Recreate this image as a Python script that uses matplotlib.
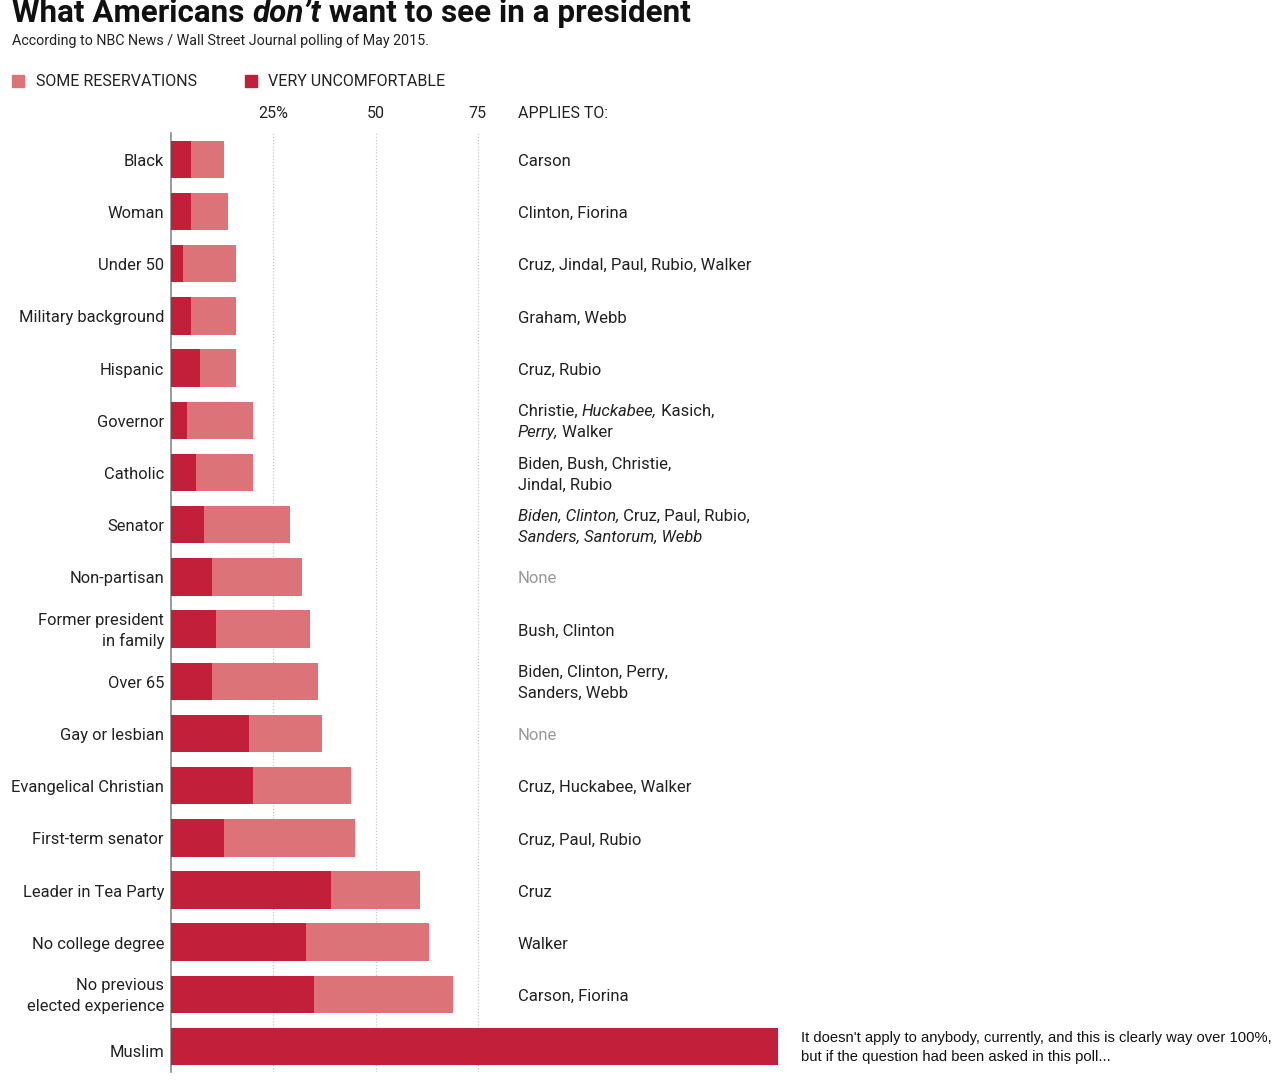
import matplotlib
matplotlib.use("Agg")
import matplotlib.pyplot as plt
from matplotlib import transforms

plt.rcParams["font.family"] = ["Roboto", "DejaVu Sans"]

W, H = 1280, 1080

DARK = "#c11f3a"
LIGHT = "#db7378"
TEXT = "#222222"

categories = [
    "Black",
    "Woman",
    "Under 50",
    "Military background",
    "Hispanic",
    "Governor",
    "Catholic",
    "Senator",
    "Non-partisan",
    "Former president\nin family",
    "Over 65",
    "Gay or lesbian",
    "Evangelical Christian",
    "First-term senator",
    "Leader in Tea Party",
    "No college degree",
    "No previous\nelected experience",
    "Muslim",
]

very_uncomfortable = [5, 5, 3, 5, 7, 4, 6, 8, 10, 11, 10, 19, 20, 13, 39, 33, 35, 148.5]
some_reservations = [8, 9, 13, 11, 9, 16, 14, 21, 22, 23, 26, 18, 24, 32, 22, 30, 34, 0]

# names wrapped in _underscores_ are drawn in italics
applies_to = [
    "Carson",
    "Clinton, Fiorina",
    "Cruz, Jindal, Paul, Rubio, Walker",
    "Graham, Webb",
    "Cruz, Rubio",
    "Christie, _Huckabee,_ Kasich,\n_Perry,_ Walker",
    "Biden, Bush, Christie,\nJindal, Rubio",
    "_Biden, Clinton,_ Cruz, Paul, Rubio,\n_Sanders, Santorum, Webb_",
    "None",
    "Bush, Clinton",
    "Biden, Clinton, Perry,\nSanders, Webb",
    "None",
    "Cruz, Huckabee, Walker",
    "Cruz, Paul, Rubio",
    "Cruz",
    "Walker",
    "Carson, Fiorina",
    None,
]

muslim_note = ("It doesn't apply to anybody, currently, and this is clearly way over 100%,\n"
               "but if the question had been asked in this poll...")

tick_values = [25, 50, 75]
tick_labels = ["25%", "50", "75"]


def fx(x):
    return x / W


def fy(y):
    return 1 - y / H


fig = plt.figure(figsize=(W / 100, H / 100), dpi=100)
ax = fig.add_axes([fx(171), fy(1072), (778 - 171) / W, (1072 - 133) / H])

rows = list(range(len(categories)))
ax.barh(rows, very_uncomfortable, height=0.72, color=DARK, zorder=3)
ax.barh(rows, some_reservations, left=very_uncomfortable, height=0.72,
        color=LIGHT, zorder=3)

ax.set_xlim(0, 607 / 4.09)
ax.set_ylim(17.485, -0.504)

for v in tick_values:
    ax.axvline(v, color="#c8c8c8", lw=0.9, linestyle=(0, (1, 1.5)), zorder=1)

for side in ["top", "right", "bottom"]:
    ax.spines[side].set_visible(False)
ax.spines["left"].set_color("#8a8a8a")
ax.spines["left"].set_linewidth(1.2)
ax.set_xticks([])
ax.set_yticks([])

# top scale labels
blend = transforms.blended_transform_factory(ax.transData, fig.transFigure)
for v, lab in zip(tick_values, tick_labels):
    ax.text(v, fy(114), lab, transform=blend, ha="center", va="center",
            fontsize=11.5, color=TEXT)
fig.text(fx(518), fy(114), "APPLIES TO:", ha="left", va="center",
         fontsize=11.5, color=TEXT)

renderer = fig.canvas.get_renderer()
ident = transforms.IdentityTransform()


def advance(s, **kw):
    t1 = fig.text(0, 0, "H" + s + "H", **kw)
    t2 = fig.text(0, 0, "HH", **kw)
    w = t1.get_window_extent(renderer).width - t2.get_window_extent(renderer).width
    t1.remove()
    t2.remove()
    return w


def draw_segments(x, y, segments, va="center", **kw):
    # x, y in image pixels; segments = [(text, italic)]
    for s, italic in segments:
        style = "italic" if italic else "normal"
        fig.text(x, H - y, s, transform=ident, ha="left", va=va,
                 fontstyle=style, **kw)
        x += advance(s, fontstyle=style, **kw)
    return x


def parse_line(line):
    parts = line.split("_")
    return [(p, i % 2 == 1) for i, p in enumerate(parts) if p]


# title, subtitle, legend
draw_segments(12, 22, [("What Americans ", False), ("don\u2019t", True),
                       (" want to see in a president", False)],
              va="baseline", fontsize=22.6, fontweight="bold", color="#111111")
fig.text(fx(12), fy(41), "According to NBC News / Wall Street Journal polling of May 2015.",
         ha="left", va="center", fontsize=10.3, color=TEXT)

fig.patches.append(plt.Rectangle((fx(12), fy(87)), 12 / W, 12 / H,
                                 transform=fig.transFigure, color=LIGHT))
fig.text(fx(36), fy(81), "SOME RESERVATIONS", ha="left", va="center",
         fontsize=11.5, color=TEXT)
fig.patches.append(plt.Rectangle((fx(245), fy(87)), 12 / W, 12 / H,
                                 transform=fig.transFigure, color=DARK))
fig.text(fx(268), fy(81), "VERY UNCOMFORTABLE", ha="left", va="center",
         fontsize=11.5, color=TEXT)

# category labels and applies-to column
for i, (cat, entry) in enumerate(zip(categories, applies_to)):
    yc = H - ax.transData.transform((0, i))[1] + 2
    cat_lines = cat.split("\n")
    cat_offsets = [0] if len(cat_lines) == 1 else [-10.5, 10]
    if entry is None:
        cat_offsets = [4]
    for line, off in zip(cat_lines, cat_offsets):
        fig.text(164, H - (yc + off), line, transform=ident, ha="right",
                 va="center", fontsize=11.9, color=TEXT)

    if entry is None:
        fig.text(fx(801), 1 - (yc - 1) / H, muslim_note, ha="left", va="center",
                 fontsize=10.6, color="#111111", linespacing=1.4,
                 family=["Liberation Sans", "DejaVu Sans"])
        continue
    color = "#999999" if entry == "None" else TEXT
    lines = entry.split("\n")
    offsets = [0] if len(lines) == 1 else [-10.5, 10.5]
    for line, off in zip(lines, offsets):
        draw_segments(518, yc + off, parse_line(line), fontsize=12, color=color)

fig.savefig("out.png", dpi=100, facecolor="white")
